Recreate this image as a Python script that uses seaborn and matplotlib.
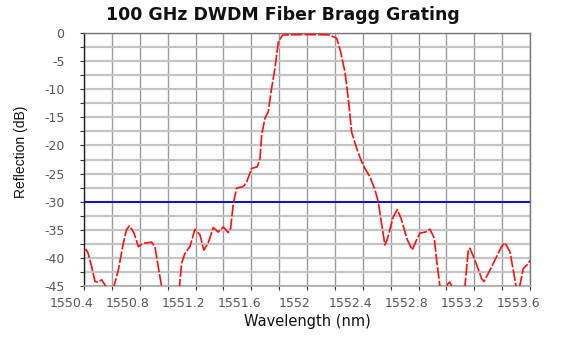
import matplotlib
matplotlib.use("Agg")
import matplotlib.pyplot as plt
import matplotlib.transforms as mtransforms
from matplotlib.ticker import MultipleLocator, FixedLocator
import numpy as np
import pandas as pd
import seaborn as sns

# Measured reflection spectrum of the grating
wavelength_nm = [
    1550.400, 1550.415, 1550.430, 1550.455, 1550.479, 1550.500, 1550.527, 1550.550,
    1550.565, 1550.590, 1550.610, 1550.646, 1550.682, 1550.705, 1550.725, 1550.740,
    1550.759, 1550.790, 1550.825, 1550.860, 1550.885, 1550.909, 1550.933, 1550.957,
    1550.990, 1551.040, 1551.084, 1551.100, 1551.124, 1551.160, 1551.196, 1551.232,
    1551.260, 1551.290, 1551.328, 1551.363, 1551.400, 1551.435, 1551.452, 1551.471,
    1551.495, 1551.543, 1551.567, 1551.603, 1551.643, 1551.663, 1551.675, 1551.698,
    1551.722, 1551.746, 1551.770, 1551.794, 1551.825, 1551.900, 1552.000, 1552.100,
    1552.165, 1552.213, 1552.241, 1552.272, 1552.296, 1552.320, 1552.356, 1552.392,
    1552.416, 1552.452, 1552.488, 1552.511, 1552.535, 1552.559, 1552.575, 1552.619,
    1552.648, 1552.675, 1552.720, 1552.755, 1552.786, 1552.810, 1552.850, 1552.882,
    1552.913, 1552.930, 1552.954, 1552.985, 1553.010, 1553.025, 1553.040, 1553.080,
    1553.133, 1553.157, 1553.169, 1553.205, 1553.253, 1553.270, 1553.300, 1553.348,
    1553.396, 1553.420, 1553.456, 1553.480, 1553.500, 1553.515, 1553.528, 1553.552,
    1553.588, 1553.600,
]
reflection_db = [
    -38.8, -38.5, -39.2, -41.6, -44.2, -44.3, -43.9, -44.8,
    -46.5, -48.0, -45.5, -42.2, -37.4, -35.0, -34.3, -34.8,
    -35.6, -38.0, -37.4, -37.3, -37.2, -38.0, -41.6, -45.1,
    -49.0, -50.0, -45.4, -41.0, -39.2, -38.0, -34.9, -35.9,
    -38.6, -37.4, -34.6, -35.4, -34.5, -35.5, -34.8, -30.3,
    -27.6, -27.3, -26.5, -24.1, -23.8, -22.3, -18.1, -15.2,
    -14.0, -9.8, -6.3, -1.6, -0.36, -0.3, -0.28, -0.3,
    -0.36, -0.95, -3.3, -6.9, -11.6, -17.6, -20.5, -22.9,
    -24.1, -25.6, -27.9, -30.0, -33.9, -37.7, -36.8, -32.7,
    -31.4, -33.0, -36.8, -38.6, -36.8, -35.6, -35.4, -34.9,
    -36.5, -40.4, -45.1, -47.0, -44.6, -44.3, -45.2, -49.0,
    -45.1, -38.6, -38.3, -40.4, -43.7, -44.2, -42.8, -40.4,
    -38.0, -37.3, -38.9, -42.2, -45.1, -46.0, -44.8, -41.9,
    -41.0, -40.4,
]
threshold_db = -30

x_ticks = [1550.4, 1550.8, 1551.2, 1551.6, 1552.0, 1552.4, 1552.8, 1553.2, 1553.6]
x_tick_labels = ["1550.4", "1550.8", "1551.2", "1551.6", "1552",
                 "1552.4", "1552.8", "1553.2", "1553.6"]
y_ticks = [0, -5, -10, -15, -20, -25, -30, -35, -40, -45]

df = pd.DataFrame({"Wavelength": wavelength_nm, "Reflection": reflection_db})

sns.set_theme(style="white")
plt.rcParams["font.family"] = ["Liberation Sans", "DejaVu Sans"]

fig = plt.figure(figsize=(5.63, 3.45), dpi=100)
ax = fig.add_axes([84 / 563, 1 - 286 / 345, 446 / 563, 253 / 345])

ax.set_xlim(1550.4, 1553.6)
ax.set_ylim(-45, 0)

# grid: 0.2 nm vertical, 2.5 dB horizontal
ax.xaxis.set_major_locator(FixedLocator(x_ticks))
ax.xaxis.set_minor_locator(MultipleLocator(0.2))
ax.yaxis.set_major_locator(FixedLocator(y_ticks))
ax.yaxis.set_minor_locator(MultipleLocator(2.5))
ax.grid(True, which="both", axis="x", color="#9a9a9a", lw=1.0)
ax.grid(True, which="both", axis="y", color="#c4c4c4", lw=1.6)
ax.set_axisbelow(True)

ax.axhline(threshold_db, color="#0000d0", lw=1.3, zorder=3)
sns.lineplot(data=df, x="Wavelength", y="Reflection", ax=ax, color="#ff1010",
             lw=1.2, zorder=4, sort=False)
ax.lines[-1].set_dashes([7, 1.2])

ax.set_xticks(x_ticks)
ax.set_xticklabels(x_tick_labels)
ax.set_yticks(y_ticks)
ax.set_yticklabels([str(v) for v in y_ticks])
ax.tick_params(which="both", direction="out", length=3, width=0.8, color="#333333",
               bottom=True, left=True)
ax.tick_params(axis="x", labelsize=9, labelcolor="#555555", pad=5)
ax.tick_params(axis="y", labelsize=9, labelcolor="#555555", pad=11)
for lab in ax.get_xticklabels():
    lab.set_fontfamily(["DejaVu Sans"])
    lab.set_transform(lab.get_transform() +
                      mtransforms.ScaledTranslation(-0.12, 0, fig.dpi_scale_trans))
for lab in ax.get_yticklabels():
    lab.set_fontfamily(["DejaVu Sans"])

for side in ["top", "right"]:
    ax.spines[side].set_color("#777777")
    ax.spines[side].set_linewidth(1.0)
ax.spines["left"].set_color("#222222")
ax.spines["left"].set_linewidth(1.0)
ax.spines["bottom"].set_color("#aaaaaa")
ax.spines["bottom"].set_linewidth(1.2)

ax.set_xlabel("Wavelength (nm)", fontsize=10.5, color="#111111", labelpad=3,
              fontfamily=["DejaVu Sans"])
ax.set_ylabel("Reflection (dB)", fontsize=10, color="#111111", labelpad=3)
ax.yaxis.set_label_coords(-0.125, 0.53)
fig.text(283 / 563, 1 - 15 / 345, "100 GHz DWDM Fiber Bragg Grating",
         ha="center", va="center", fontsize=12.5, fontweight="bold", color="#111111",
         fontfamily=["DejaVu Sans"])

fig.savefig("out.png", dpi=100)
